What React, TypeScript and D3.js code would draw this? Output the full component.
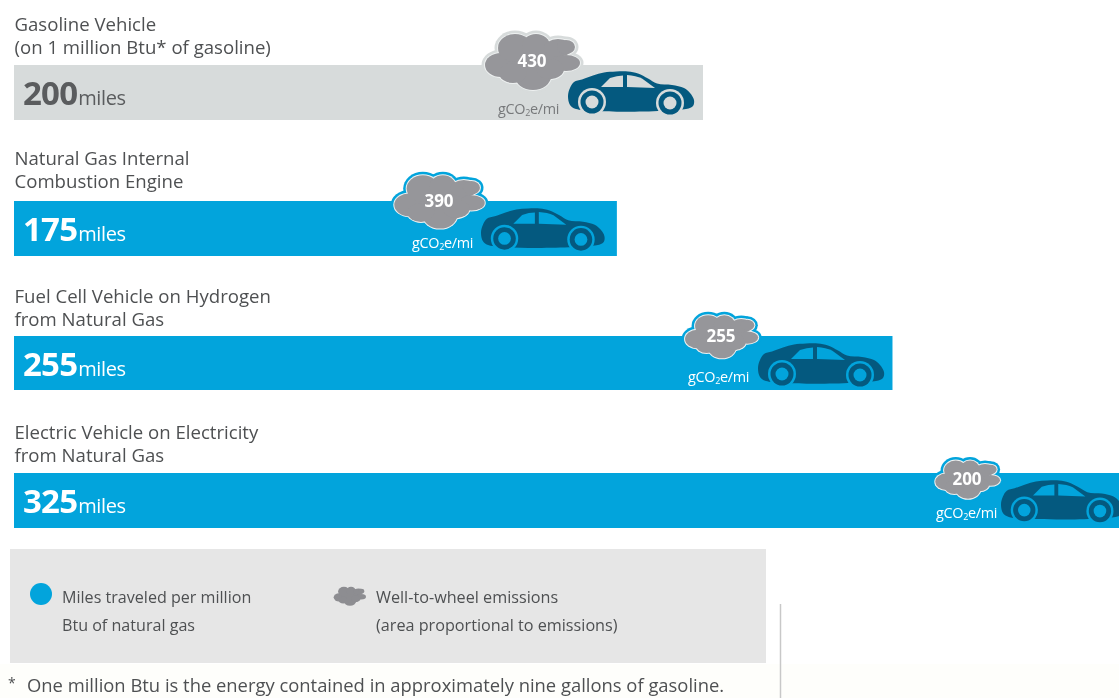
import React from "react";
import * as d3 from "d3";

const titleLines = [
  ["Gasoline Vehicle", "(on 1 million Btu* of gasoline)"],
  ["Natural Gas Internal", "Combustion Engine"],
  ["Fuel Cell Vehicle on Hydrogen", "from Natural Gas"],
  ["Electric Vehicle on Electricity", "from Natural Gas"],
];
const miles = [200, 175, 255, 325];
const emissions = [430, 390, 255, 200];
const legendMiles = ["Miles traveled per million", "Btu of natural gas"];
const legendCloud = ["Well-to-wheel emissions", "(area proportional to emissions)"];
const footnote = "One million Btu is the energy contained in approximately nine gallons of gasoline.";

// layout
const W = 1119, H = 698;
const barTop = [65, 201, 336, 473];
const barH = [55, 55, 54, 55];
const titleY = [31, 165, 303, 439];
const cloudC = [[533, 61], [440, 201], [722, 336], [968, 479]];
const carXY = [[568, 72], [481, 209], [758, 344], [1001, 481]];
const carScale = [1, 0.98, 1, 0.97];
const unitX = [498, 412, 688, 936];
const unitY = [114, 248, 382, 518];

const x = d3.scaleLinear().domain([0, 200]).range([14, 703]);
const cloudR = d3.scaleSqrt().domain([0, 430]).range([0, 1]);

// cloud glyph: overlapping lobes [cx, cy, rx, ry]
const lobes = [
  [0, 0, 32, 22], [-32, 4, 16, 12], [-18, -13, 17, 14], [3, -15, 14, 12], [25, -13, 14, 9],
  [33, -14, 9, 7], [33, 2, 14, 8], [0, 15, 18, 14], [-20, 12, 14, 10], [17, 8, 14, 10],
];
function Lobes({ fill, grow }: { fill: string; grow: number }) {
  return (
    <>
      {lobes.map(([cx, cy, rx, ry], i) => (
        <ellipse key={i} cx={cx} cy={cy} rx={rx + grow} ry={ry + grow} fill={fill} />
      ))}
    </>
  );
}

const carBody: [number, number][] = [
  [0, 24], [2, 16], [6, 10], [14, 7.5], [25, 3.5], [36, 0.5], [48, -0.5], [60, -0.5], [70, 1.5], [80, 6.5], [89, 11.5],
  [104, 13], [116, 16], [122, 21], [126, 28], [125, 34], [118, 37], [8, 37], [2, 33],
];
const carBodyPath = d3.line().curve(d3.curveCatmullRomClosed.alpha(0.5))(carBody) as string;
const win1 = "M33 15 L42 6 Q49 3.5 55 3.5 L55 15 Z";
const win2 = "M59 3 Q68 3.5 74 6.5 L87 16 L59 15 Z";
const wheels = [[24, 30], [102, 31]];

const FONT = "'Open Sans', sans-serif";
const TXT = "#4e5052";

function Car({ px, py, s, bg }: { px: number; py: number; s: number; bg: string }) {
  const dark = "#04597f";
  return (
    <g transform={`translate(${px},${py}) scale(${s})`}>
      <path d={carBodyPath} fill={dark} />
      <path d={win1} fill={bg} />
      <path d={win2} fill={bg} />
      {wheels.map(([cx, cy], i) => (
        <g key={i}>
          <circle cx={cx} cy={cy} r={14} fill={bg} />
          <circle cx={cx} cy={cy} r={11.5} fill={dark} />
          <circle cx={cx} cy={cy} r={6.5} fill={bg} />
        </g>
      ))}
    </g>
  );
}

export default function App() {
  const ink = (i: number) => (i === 0 ? "#5a5c5e" : "#ffffff");
  return (
    <svg
      width={W}
      height={H}
      style={{ position: "absolute", left: 0, top: 0, filter: "blur(0.45px)" }}
      fontFamily={FONT}
    >
      <rect width={W} height={H} fill="#ffffff" />
      <rect x={0} y={664} width={W} height={34} fill="#fefefb" />
      {miles.map((m, i) => {
        const bg = i === 0 ? "#d7dbdb" : "#02a4dc";
        const s = cloudR(emissions[i]);
        const [cx, cy] = cloudC[i];
        return (
          <g key={i}>
            {titleLines[i].map((t, j) => (
              <text key={j} x={14.5} y={titleY[i] + j * 22.5} fontSize={18.6} fill={TXT}>{t}</text>
            ))}
            <rect x={x(0)} y={barTop[i]} width={x(m) - x(0)} height={barH[i]} fill={bg} />
            <text x={23} y={barTop[i] + 40} fill={ink(i)} fontSize={33} fontWeight={700} letterSpacing={-0.8}>
              {m}
              <tspan fontSize={20} fontWeight={400} letterSpacing={-0.4} dx={1}>miles</tspan>
            </text>
            <g transform={`translate(${cx},${cy}) scale(${s})`}>
              <Lobes fill={i === 0 ? "#d7dbdb" : "#02a4dc"} grow={3.5 / s} />
              <Lobes fill="#eef1f1" grow={1 / s} />
              <Lobes fill="#96969a" grow={0} />
            </g>
            <text x={cx - 1} y={cy + 6} textAnchor="middle" fill="#ffffff" fontSize={17} fontWeight={700}>{emissions[i]}</text>
            <text x={unitX[i]} y={unitY[i]} fill={i === 0 ? "#77797b" : "#ffffff"} fontSize={14.4} letterSpacing={-0.3}>
              gCO<tspan fontSize={9} dy={2}>2</tspan><tspan dy={-2}>e/mi</tspan>
            </text>
            <Car px={carXY[i][0]} py={carXY[i][1]} s={carScale[i]} bg={bg} />
          </g>
        );
      })}

      <rect x={10} y={549} width={756} height={114} fill="#e6e6e6" />
      <circle cx={41} cy={594} r={11} fill="#02a4dc" />
      {legendMiles.map((t, j) => (
        <text key={j} x={62} y={603 + j * 27.5} fontSize={16.1} fill={TXT}>{t}</text>
      ))}
      <g transform="translate(350,596) scale(0.34)">
        <Lobes fill="#8d8d91" grow={0} />
      </g>
      {legendCloud.map((t, j) => (
        <text key={j} x={376} y={603 + j * 27.5} fontSize={16.2} fill={TXT}>{t}</text>
      ))}
      <line x1={780.5} x2={780.5} y1={604} y2={698} stroke="#c8c8c8" strokeWidth={1.5} />
      <text x={8} y={688} fontSize={14} fill={TXT}>*</text>
      <text x={27} y={692} fontSize={18.4} fill={TXT}>{footnote}</text>
    </svg>
  );
}
